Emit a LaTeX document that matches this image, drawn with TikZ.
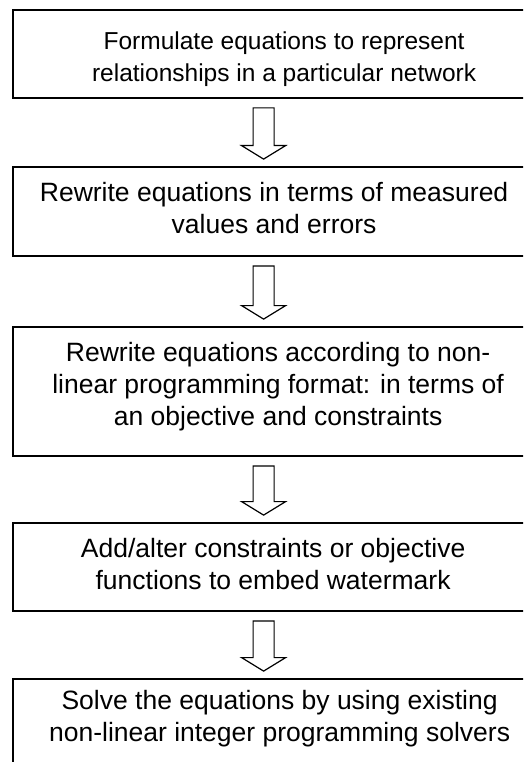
\documentclass[tikz,border=0pt]{standalone}
\usepackage{fontspec}
\setmainfont{Liberation Sans}
\usetikzlibrary{calc}

% strut that fixes the height of the first text line
\newcommand\firstline{\rule{0pt}{19.5pt}}

% hollow block arrow running from the bottom of one step to the top of the next
\newcommand\blockarrow[2]{%
  \draw[arrowline] let \p1=($(#1.south west)+(251.5,9)$), \p2=($(#2.north west)+(251.5,-7)$) in
    (\x1-10.5pt,\y1) -- (\x1+10.5pt,\y1) -- (\x1+10.5pt,\y2+13.5pt)
    -- (\x1+22pt,\y2+13.5pt) -- (\x1,\y2) -- (\x1-22pt,\y2+13.5pt)
    -- (\x1-10.5pt,\y2+13.5pt) -- cycle;}

\tikzset{
  stepbox/.style={draw=black, line width=1.8pt, rectangle, minimum width=600pt, inner sep=0pt},
  steptext/.style={align=center, anchor=north, inner sep=0pt,
    font=\fontsize{26.5}{32}\selectfont},
  arrowline/.style={draw=black, line width=1.2pt, fill=white, line join=miter},
}

\begin{document}
\begin{tikzpicture}[x=1pt, y=-1pt]
  \useasboundingbox (0,0) rectangle (523,762);
  \clip (0,0) rectangle (523,762);
  \fill[white] (0,0) rectangle (523,762);

  % process steps (they run on past the right and bottom edges)
  \node[stepbox, minimum height=88pt]  (b1) at (313,54)    {};
  \node[stepbox, minimum height=89pt]  (b2) at (313,211.5) {};
  \node[stepbox, minimum height=129pt] (b3) at (313,391.5) {};
  \node[stepbox, minimum height=88pt]  (b4) at (313,567)   {};
  \node[stepbox, minimum height=90pt]  (b5) at (313,724)   {};

  % step descriptions
  \node[steptext, font=\fontsize{24.5}{32}\selectfont] (t1) at ($(b1.north west)+(272,21)$)
    {\firstline Formulate equations to represent\\relationships in a particular network};
  \node[steptext] (t2) at ($(b2.north west)+(262,15.5)$)
    {\firstline Rewrite equations in terms of measured\\values and errors};
  \node[steptext] (t3) at ($(b3.north west)+(266,15.5)$)
    {\firstline Rewrite equations according to non-\\linear programming format: in terms of\\an objective and constraints};
  \node[steptext] (t4) at ($(b4.north west)+(261,15.5)$)
    {\firstline Add/alter constraints or objective\\functions to embed watermark};
  \node[steptext] (t5) at ($(b5.north west)+(267.5,11.5)$)
    {\firstline Solve the equations by using existing\\non-linear integer programming solvers};

  % flow between steps
  \blockarrow{b1}{b2}
  \blockarrow{b2}{b3}
  \blockarrow{b3}{b4}
  \blockarrow{b4}{b5}
\end{tikzpicture}
\end{document}
